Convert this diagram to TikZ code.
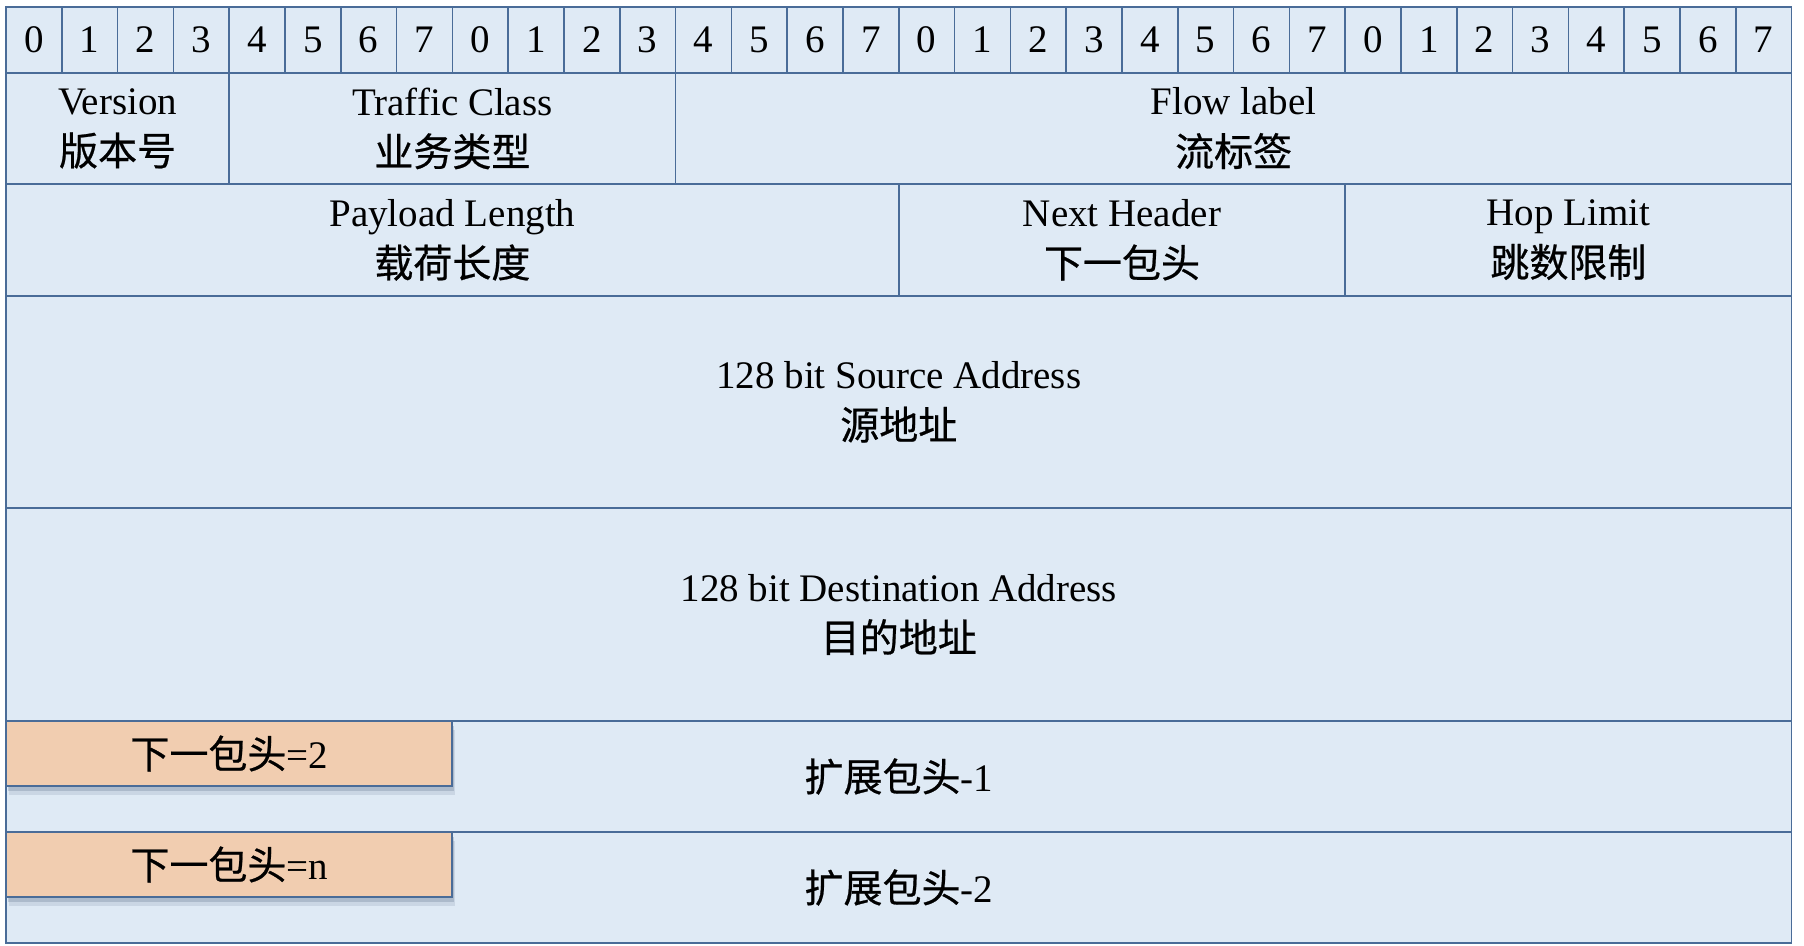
\documentclass[tikz,border=0pt]{standalone}
\usepackage{fontspec}
\setmainfont{Liberation Serif}
\newfontfamily\cjk[FakeBold=0.6]{Noto Sans CJK SC}
\usetikzlibrary{shadows}
\definecolor{cellblue}{RGB}{223,234,245}
\definecolor{lineblue}{RGB}{74,108,152}
\definecolor{tagorange}{RGB}{241,205,176}
\tikzset{
  field/.style = {rectangle, draw=lineblue, fill=cellblue, line width=0.75pt, inner sep=0pt,
                  align=center, font=\fontsize{19.5}{25.5}\selectfont},
  bitcell/.style = {field, minimum width=27.9pt, minimum height=33pt},
  tagbox/.style = {field, fill=tagorange, line width=1pt, minimum width=223.2pt, minimum height=32.5pt,
                   drop shadow={shadow xshift=1.5pt, shadow yshift=-4.5pt, opacity=0.12, fill=lineblue!70!black},
                   drop shadow={shadow xshift=1pt, shadow yshift=-2.5pt, opacity=0.2, fill=lineblue!70!black}}
}

\begin{document}
\begin{tikzpicture}[x=0.5pt, y=-0.5pt]
\useasboundingbox[fill=white] (0,0) rectangle (1804,946);
% bit numbers
\foreach \i [evaluate=\i as \b using {int(mod(\i,8))}] in {0,...,31}
  \node[bitcell] (b\i) at (33.9+55.8*\i, 40) {\b};
% first header word
\node[field, minimum width=111.6pt, minimum height=55.5pt] (Ver) at (117.6, 128.5) {Version\\{\cjk 版本号}};
\node[field, minimum width=223.2pt, minimum height=55.5pt] (TC) at (452.4, 128.5) {Traffic Class\\{\cjk 业务类型}};
\node[field, minimum width=558pt, minimum height=55.5pt] (FL) at (1233.6, 128.5) {Flow label\\{\cjk 流标签}};
% second header word
\node[field, minimum width=446.4pt, minimum height=56pt] (PL) at (452.4, 240) {Payload Length\\{\cjk 载荷长度}};
\node[field, minimum width=223.2pt, minimum height=56pt] (NH) at (1122, 240) {Next Header\\{\cjk 下一包头}};
\node[field, minimum width=223.2pt, minimum height=56pt] (HL) at (1568.4, 240) {Hop Limit\\{\cjk 跳数限制}};
% addresses
\node[field, minimum width=892.8pt, minimum height=106pt] (SA) at (898.8, 402) {128 bit Source Address\\{\cjk 源地址}};
\node[field, minimum width=892.8pt, minimum height=106.5pt] (DA) at (898.8, 614.5) {128 bit Destination Address\\{\cjk 目的地址}};
% extension headers
\node[field, minimum width=892.8pt, minimum height=55.5pt] (E1) at (898.8, 776.5) {{\cjk 扩展包头}-1};
\node[field, minimum width=892.8pt, minimum height=55.5pt] (E2) at (898.8, 887.5) {{\cjk 扩展包头}-2};
\node[tagbox] (N1) at (229.2, 753.5) {{\cjk 下一包头}=2};
\node[tagbox] (N2) at (229.2, 864.5) {{\cjk 下一包头}=n};
\end{tikzpicture}
\end{document}
